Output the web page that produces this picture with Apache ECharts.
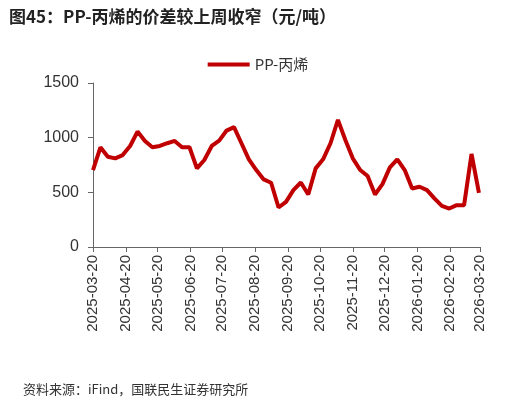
<!DOCTYPE html><html><head><meta charset="utf-8"><script src="https://cdn.jsdelivr.net/npm/echarts@6/dist/echarts.min.js"></script></head><body style="margin:0"><div id="c" style="width:516px;height:401px"></div><script>
const startDate = '2025-03-20', endDate = '2026-03-20';
const weeklyValues = [704,912,826,811,841,924,1056,970,912,924,949,970,912,912,719,796,924,973,1065,1096,949,802,704,618,588,361,413,520,590,480,719,802,949,1163,979,811,704,649,480,575,728,802,704,535,551,520,444,376,352,383,383,851,496];
const yTicks = [0,500,1000,1500];
function fmt(d){return d.toISOString().slice(0,10);}
const days=[];for(let d=new Date(startDate+'T00:00:00Z');fmt(d)<=endDate;d.setUTCDate(d.getUTCDate()+1))days.push(fmt(d));
const data=days.map(()=>null);weeklyValues.forEach((v,i)=>{data[i*7]=v;});
const isTick=(i,v)=>v.slice(8)==='20';
const ch=echarts.init(document.getElementById('c'));
ch.setOption({animation:false,
title:[{text:'图45：PP-丙烯的价差较上周收窄（元/吨）',left:4,top:3,textStyle:{fontSize:17,fontWeight:'bold',color:'#222',fontFamily:'Noto Sans CJK SC'}},
{text:'资料来源：iFind，国联民生证券研究所',left:18,top:378,textStyle:{fontSize:13,fontWeight:'normal',color:'#333',fontFamily:'Noto Sans CJK SC'}}],
legend:{top:52,left:'center',itemWidth:42,itemHeight:4,icon:'rect',textStyle:{fontSize:15,color:'#333',fontFamily:'Noto Sans CJK SC'},data:['PP-丙烯']},
grid:{left:93,right:36,top:83,bottom:154},
xAxis:{type:'category',data:days,boundaryGap:false,axisLine:{lineStyle:{color:'#666'}},axisTick:{interval:isTick,lineStyle:{color:'#666'}},
axisLabel:{interval:isTick,rotate:90,fontSize:15,color:'#333',margin:8}},
yAxis:{type:'value',min:0,max:1500,interval:500,splitLine:{show:false},axisLine:{show:true,lineStyle:{color:'#666'}},axisTick:{show:true,lineStyle:{color:'#666'}},axisLabel:{fontSize:16,color:'#333',margin:14,formatter:v=>String(v)}},
series:[{name:'PP-丙烯',type:'line',data:data,connectNulls:true,showSymbol:false,lineStyle:{width:4,color:'#c00000'},itemStyle:{color:'#c00000'}}]});
</script></body></html>
